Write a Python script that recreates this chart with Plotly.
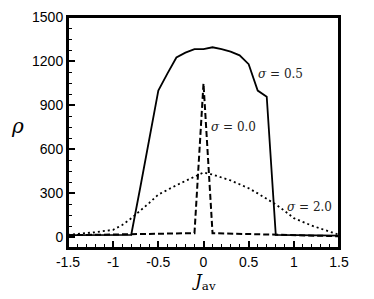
import plotly.graph_objects as go

# sigma = 0.5 (solid)
j_05 = [-1.5, -0.8, -0.7, -0.6, -0.5, -0.4, -0.3, -0.2, -0.1, 0.0, 0.1, 0.2, 0.3, 0.4, 0.5, 0.6, 0.7, 0.8, 1.5]
rho_05 = [15, 18, 340, 670, 1000, 1115, 1225, 1258, 1282, 1282, 1295, 1282, 1265, 1240, 1180, 1000, 958, 18, 12]

# sigma = 0.0 (dashed)
j_00 = [-1.5, -0.1, 0.0, 0.1, 1.5]
rho_00 = [15, 29, 1048, 29, 8]

# sigma = 2.0 (dotted)
j_20 = [-1.5, -1.2, -1.0, -0.9, -0.8, -0.7, -0.6, -0.5, -0.4, -0.3, -0.2, -0.1, 0.0, 0.1, 0.2, 0.3, 0.4, 0.5, 0.6, 0.7, 0.8, 0.9, 1.0, 1.2, 1.5]
rho_20 = [18, 35, 52, 85, 130, 180, 235, 292, 325, 355, 385, 415, 442, 428, 410, 388, 362, 335, 300, 262, 225, 180, 131, 80, 18]

x_ticks = [-1.5, -1, -0.5, 0, 0.5, 1, 1.5]
x_ticklabels = ["-1.5", "-1", "-0.5", "0", "0.5", "1", "1.5"]
y_ticks = [0, 300, 600, 900, 1200, 1500]

fig = go.Figure()
fig.add_trace(go.Scatter(x=j_00, y=rho_00, mode="lines",
                         line=dict(color="black", width=2, dash="6px,3px")))
fig.add_trace(go.Scatter(x=j_20, y=rho_20, mode="lines",
                         line=dict(color="black", width=1.8, dash="2px,3px")))
fig.add_trace(go.Scatter(x=j_05, y=rho_05, mode="lines",
                         line=dict(color="black", width=1.8)))

serif = "DejaVu Serif"
ann_font = dict(family=serif, size=12, color="#222")
fig.add_annotation(x=0.58, y=1110, text="<i>σ</i> = 0.5", showarrow=False,
                   xanchor="left", yanchor="middle", font=ann_font)
fig.add_annotation(x=0.06, y=750, text="<i>σ</i> = 0.0", showarrow=False,
                   xanchor="left", yanchor="middle", font=ann_font)
fig.add_annotation(x=0.9, y=210, text="<i>σ</i> = 2.0", showarrow=False,
                   xanchor="left", yanchor="middle", font=ann_font)

# the page body has an 8px margin, so the figure is sized and offset to fit the window
fig.update_layout(
    width=358, height=283,
    margin=dict(l=60, r=27, t=9, b=43),
    paper_bgcolor="white", plot_bgcolor="white",
    showlegend=False,
    font=dict(family="Liberation Sans", size=14, color="black"),
)
fig.update_xaxes(
    range=[-1.5, 1.5], tickvals=x_ticks, ticktext=x_ticklabels,
    ticks="inside", ticklen=7, tickwidth=1.5, tickcolor="black",
    minor=dict(dtick=0.1, ticks="inside", ticklen=4, tickwidth=1, tickcolor="black"),
    showline=True, linecolor="black", linewidth=2, mirror=True,
    showgrid=False, zeroline=False, automargin=False,
)
fig.update_yaxes(
    range=[-72, 1501], tickvals=y_ticks,
    ticks="inside", ticklen=7, tickwidth=1.5, tickcolor="black",
    minor=dict(dtick=75, tick0=0, ticks="inside", ticklen=4, tickwidth=1, tickcolor="black"),
    showline=True, linecolor="black", linewidth=2, mirror=True,
    showgrid=False, zeroline=False, automargin=False,
)
# frame around the plotting area
fig.add_shape(type="rect", xref="paper", yref="paper", x0=0, y0=0, x1=1, y1=1,
              line=dict(color="black", width=2), layer="above")
fig.add_annotation(xref="paper", yref="paper", x=-0.185, y=0.53, text="<i>ρ</i>",
                   showarrow=False, font=dict(family=serif, size=20),
                   xanchor="center", yanchor="middle")
fig.add_annotation(xref="paper", yref="paper", x=0.5, y=-0.085, text="<i>J</i><sub>av</sub>",
                   showarrow=False, font=dict(family=serif, size=17),
                   xanchor="center", yanchor="top")

fig.write_html("out.html", config={"displayModeBar": False})
